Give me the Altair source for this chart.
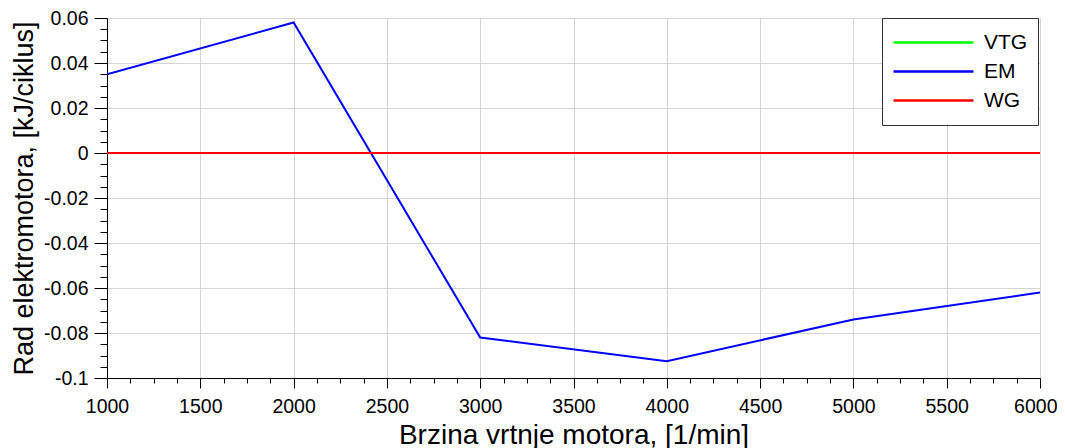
import altair as alt
import pandas as pd

# --- data ---
speed = [1000, 2000, 3000, 4000, 5000, 6000]
vtg = [0.0, 0.0, 0.0, 0.0, 0.0, 0.0]
em = [0.035, 0.058, -0.082, -0.0925, -0.074, -0.062]
wg = [0.0, 0.0, 0.0, 0.0, 0.0, 0.0]
series_names = ["VTG", "EM", "WG"]
series_colors = ["#00ff00", "#0000ff", "#ff0000"]

x_major = [1000, 1500, 2000, 2500, 3000, 3500, 4000, 4500, 5000, 5500, 6000]
y_major = [-0.1, -0.08, -0.06, -0.04, -0.02, 0, 0.02, 0.04, 0.06]
x_minor = [1000 + 125 * i for i in range(41)]
y_minor = [round(-0.1 + 0.005 * i, 4) for i in range(33)]
x_last = [6000]

rows = []
for name, vals in zip(series_names, [vtg, em, wg]):
    for s, v in zip(speed, vals):
        rows.append({"speed": s, "value": v, "series": name})
df = pd.DataFrame(rows)

FONT = "Liberation Sans"
W, H = 933, 360
LABEL_FS = 19.5

xscale = alt.Scale(domain=[1000, 6000], nice=False, zero=False)
yscale = alt.Scale(domain=[-0.1, 0.06], nice=False, zero=False)
cscale = alt.Scale(domain=series_names, range=series_colors)

x_axis = alt.Axis(
    orient="bottom", values=x_major, format="d", grid=True, gridColor="#d4d4d4",
    domainColor="black", tickColor="black", tickSize=10, labelFontSize=LABEL_FS,
    labelFont=FONT, labelColor="black", labelPadding=9, labelFlush=False,
    labelExpr="datum.value == 6000 ? '' : datum.label",
    title="Brzina vrtnje motora, [1/min]", titleFont=FONT, titleFontSize=28,
    titleFontWeight="normal", titleColor="black", titleY=65,
    titleBaseline="alphabetic", titleX=W / 2, titleAlign="center",
)
y_axis = alt.Axis(
    orient="left", values=y_major, labelExpr="'' + datum.value", grid=True,
    gridColor="#d4d4d4", domainColor="black", tickColor="black", tickSize=13,
    labelFontSize=LABEL_FS, labelFont=FONT, labelColor="black", labelPadding=6,
    labelFlush=False,
    title="Rad elektromotora, [kJ/ciklus]", titleFont=FONT, titleFontSize=27,
    titleFontWeight="normal", titleColor="black", titleAngle=270,
    titleX=-75, titleY=H / 2, titleBaseline="alphabetic", titleAlign="center",
)
legend = alt.Legend(
    orient="none", legendX=W - 158, legendY=0, title=None, symbolType="stroke",
    symbolSize=6400, symbolStrokeWidth=2.5, labelFontSize=21, labelFont=FONT,
    labelColor="black", labelOffset=9, fillColor="white", strokeColor="#333",
    padding=10, clipHeight=29, rowPadding=0, labelLimit=200,
)

layers = []
for i, name in enumerate(series_names):
    layers.append(
        alt.Chart(df)
        .transform_filter(alt.datum.series == name)
        .mark_line(strokeWidth=2, clip=True)
        .encode(
            x=alt.X("speed:Q", scale=xscale, axis=x_axis if i == 0 else None),
            y=alt.Y("value:Q", scale=yscale, axis=y_axis if i == 0 else None),
            color=alt.Color("series:N", scale=cscale, legend=legend if i == 0 else None),
        )
    )

minor = (
    alt.Chart(df)
    .mark_line(opacity=0)
    .encode(
        x=alt.X("speed:Q", scale=xscale, axis=alt.Axis(
            orient="bottom", values=x_minor, labels=False, grid=False, domain=False,
            tickColor="black", tickSize=5, title=None)),
        y=alt.Y("value:Q", scale=yscale, axis=alt.Axis(
            orient="left", values=y_minor, labels=False, grid=False, domain=False,
            tickColor="black", tickSize=7, title=None)),
        detail="series:N",
    )
)

last_label = (
    alt.Chart(df)
    .mark_line(opacity=0)
    .encode(
        x=alt.X("speed:Q", scale=xscale, axis=alt.Axis(
            orient="bottom", values=x_last, format="d", grid=False, domain=False,
            ticks=False, labelFontSize=LABEL_FS, labelFont=FONT, labelColor="black",
            labelPadding=19, labelFlush=True, labelFlushOffset=17, title=None)),
        y=alt.Y("value:Q", scale=yscale, axis=None),
        detail="series:N",
    )
)

chart = (
    alt.layer(minor, last_label, *layers)
    .resolve_axis(x="independent", y="independent")
    .properties(
        width=W, height=H,
        autosize=alt.AutoSizeParams(type="none"),
        padding={"left": 99, "top": 10, "right": 17, "bottom": 70},
    )
    .configure_view(stroke="black", strokeWidth=1)
    .configure(background="white")
)

chart.save("out.html", embed_options={"renderer": "svg", "actions": False})
